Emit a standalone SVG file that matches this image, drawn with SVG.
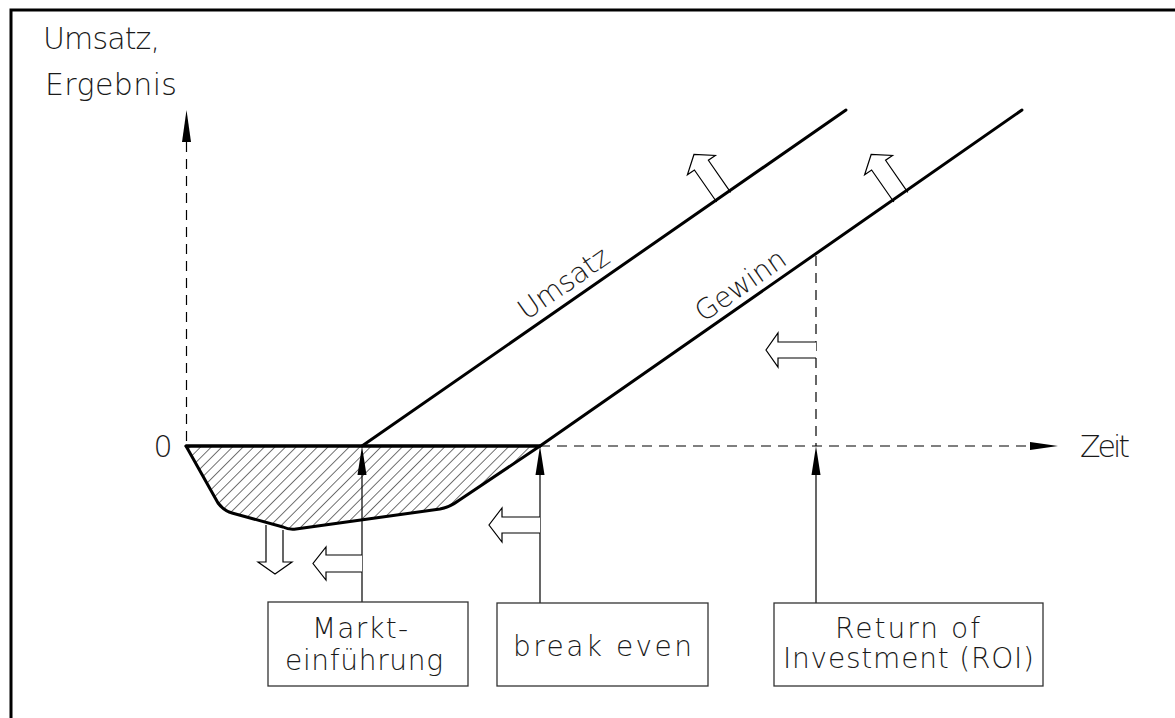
<svg xmlns="http://www.w3.org/2000/svg" width="1175" height="718" viewBox="0 0 1175 718">
<style>
.t{font-family:'DejaVu Sans','Liberation Sans',sans-serif;font-weight:200;font-size:28px;fill:#1a1a1a}
.big{font-size:30px}
.thick{fill:none;stroke:#000;stroke-width:3;stroke-linecap:round;stroke-linejoin:round}
.thin{fill:none;stroke:#000;stroke-width:1.2}
.dash{fill:none;stroke:#000;stroke-width:1.2;stroke-dasharray:10 7}
.hollow{fill:#fff;stroke:#000;stroke-width:1.2;stroke-linejoin:miter}
.head{fill:#000;stroke:none}
.box{fill:#fff;stroke:#333;stroke-width:1.3}
</style>
<defs>
<pattern id="hatch" width="7.5" height="7.5" patternUnits="userSpaceOnUse" patternTransform="rotate(45)">
<line x1="0" y1="-1" x2="0" y2="9" stroke="#000" stroke-width="1.1"/>
</pattern>
</defs>
<rect width="1175" height="718" fill="#fff"/>
<path d="M11,718 V10 H1175" fill="none" stroke="#000" stroke-width="3"/>

<g id="axis-labels">
<text class="t big" x="43" y="49" textLength="117" lengthAdjust="spacing">Umsatz,</text>
<text class="t big" x="45" y="95" textLength="132" lengthAdjust="spacing">Ergebnis</text>
<text class="t big" x="163" y="457" text-anchor="middle">0</text>
<text class="t big" x="1080" y="457" textLength="50" lengthAdjust="spacing">Zeit</text>
</g>

<g id="loss-area">
<path d="M186,446 L218,503 Q224,511 232,513 L283,527 Q289,530 296,529 L440,509 Q450,507 458,501 L540,446 Z" fill="url(#hatch)" stroke="#000" stroke-width="3" stroke-linejoin="round"/>
</g>

<g id="connectors">
<line class="dash" x1="186.5" y1="142" x2="186.5" y2="446"/>
<polygon class="head" points="186.5,110 182,142 191,142"/>
<line class="dash" x1="540" y1="446" x2="1030" y2="446"/>
<polygon class="head" points="1058,446 1030,442 1030,450"/>
<line class="dash" x1="816" y1="256" x2="816" y2="446"/>
<line class="thick" x1="186" y1="446" x2="540" y2="446"/>
<line class="thin" x1="362" y1="470" x2="362" y2="602"/>
<polygon class="head" points="362,446 357.5,475 366.5,475"/>
<line class="thin" x1="540" y1="470" x2="540" y2="603"/>
<polygon class="head" points="540,446 535.5,475 544.5,475"/>
<line class="thin" x1="816" y1="470" x2="816" y2="603"/>
<polygon class="head" points="816,446 811.5,475 820.5,475"/>
<path class="hollow" d="M266,525 V562 H258 L275,574 L292,562 H283 V530"/>
<path class="hollow" d="M362,555 H326 V547 L313,563.5 L326,580 V572 H362"/>
<path class="hollow" d="M540,517 H502 V508 L489,525 L502,542 V533 H540"/>
<path class="hollow" d="M816,342 H778 V333 L766,350 L778,367 V358 H816"/>
<path class="hollow" transform="translate(722.5,195.5) rotate(-34.8)" d="M-8.5,2 V-37 H-17 L0,-50 L17,-37 H8.5 V2"/>
<path class="hollow" transform="translate(899.7,195.5) rotate(-34.8)" d="M-8.5,2 V-37 H-17 L0,-50 L17,-37 H8.5 V2"/>
</g>

<g id="umsatz-line">
<line class="thick" x1="362" y1="446" x2="846" y2="110"/>
<text class="t" transform="translate(569,291) rotate(-34.8)" text-anchor="middle" textLength="104" lengthAdjust="spacing">Umsatz</text>
</g>
<g id="gewinn-line">
<line class="thick" x1="540" y1="446" x2="1022" y2="110"/>
<text class="t" transform="translate(746,293) rotate(-34.8)" text-anchor="middle" textLength="104" lengthAdjust="spacing">Gewinn</text>
</g>

<g id="box-markteinfuehrung">
<rect class="box" x="268" y="602" width="200" height="84"/>
<text class="t" x="312" y="638" textLength="96" lengthAdjust="spacing">Markt-</text>
<text class="t" x="285" y="670" textLength="158" lengthAdjust="spacing">einführung</text>
</g>
<g id="box-break-even">
<rect class="box" x="497" y="603" width="211" height="83"/>
<text class="t" x="513" y="656" textLength="179" lengthAdjust="spacing">break even</text>
</g>
<g id="box-roi">
<rect class="box" x="774" y="603" width="269" height="83"/>
<text class="t" x="835" y="638" textLength="145" lengthAdjust="spacing">Return of</text>
<text class="t" x="783" y="668" textLength="251" lengthAdjust="spacing">Investment (ROI)</text>
</g>
</svg>
